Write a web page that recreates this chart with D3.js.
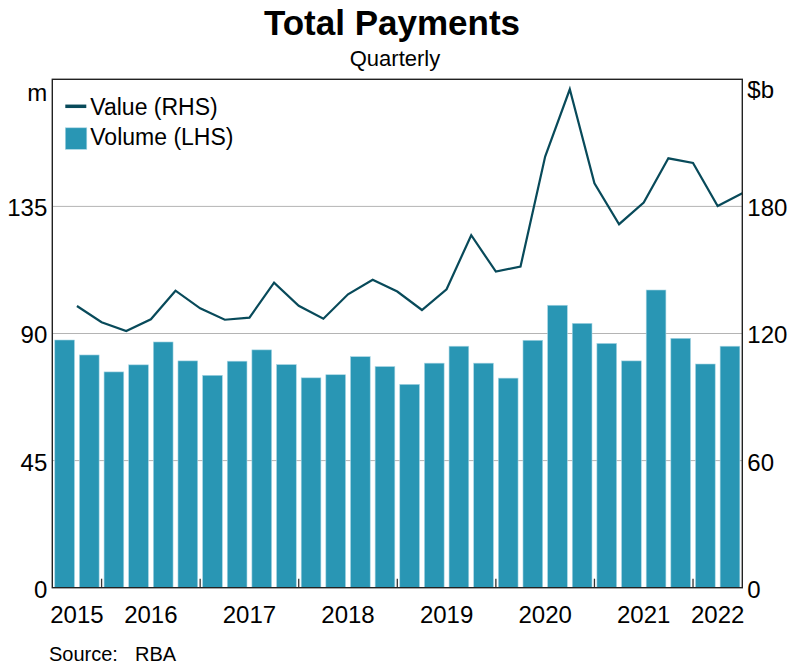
<!DOCTYPE html>
<html>
<head>
<meta charset="utf-8">
<script src="https://cdn.jsdelivr.net/npm/d3@7"></script>
<style>
  body { margin: 0; background: #fff; }
  svg { font-family: Arial, "Liberation Sans", sans-serif; }
</style>
</head>
<body>
<div id="chart"></div>
<script>
// quarters 2015 Q3 .. 2022 Q2
var quarters = ["2015Q3","2015Q4",
  "2016Q1","2016Q2","2016Q3","2016Q4",
  "2017Q1","2017Q2","2017Q3","2017Q4",
  "2018Q1","2018Q2","2018Q3","2018Q4",
  "2019Q1","2019Q2","2019Q3","2019Q4",
  "2020Q1","2020Q2","2020Q3","2020Q4",
  "2021Q1","2021Q2","2021Q3","2021Q4",
  "2022Q1","2022Q2"];
// Volume, millions (LHS)
var volume = [87.7, 82.4, 76.4, 78.9, 87.0, 80.3, 75.2, 80.2, 84.2, 79.0,
  74.3, 75.4, 81.8, 78.3, 72.0, 79.5, 85.5, 79.5, 74.2, 87.6,
  100.0, 93.6, 86.5, 80.3, 105.4, 88.3, 79.2, 85.5];
// Value, $b (RHS)
var value = [133.0, 125.3, 121.2, 126.7, 140.2, 131.9, 126.5, 127.5, 144.0, 133.1,
  127.0, 138.5, 145.4, 139.8, 131.1, 140.9, 166.4, 149.2, 151.6, 203.5,
  235.3, 190.9, 171.6, 181.8, 202.7, 200.5, 180.2, 186.2];
var years = ["2015","2016","2017","2018","2019","2020","2021","2022"];
var leftTicks = [0, 45, 90, 135];
var rightTicks = [0, 60, 120, 180];

var width = 790, height = 666;
var margin = {left: 52.3, right: 47.7, top: 79.3, bottom: 78.3};
var innerW = width - margin.left - margin.right,
    innerH = height - margin.top - margin.bottom;

var barColor = "#2996b4", lineColor = "#084a5a";

var svg = d3.select("#chart").append("svg")
    .attr("width", width)
    .attr("height", height);

svg.append("text")
    .attr("x", 392).attr("y", 35)
    .attr("text-anchor", "middle")
    .style("font-size", "35px").style("font-weight", "bold")
    .text("Total Payments");
svg.append("text")
    .attr("x", 395).attr("y", 66)
    .attr("text-anchor", "middle")
    .style("font-size", "22px")
    .text("Quarterly");

var g = svg.append("g")
    .attr("transform", "translate(" + margin.left + "," + margin.top + ")");

var x = d3.scaleBand()
    .domain(quarters)
    .range([0, innerW])
    .paddingInner(0.2)
    .paddingOuter(0.1);
var yL = d3.scaleLinear().domain([0, 180]).range([innerH, 0]);
var yR = d3.scaleLinear().domain([0, 240]).range([innerH, 0]);

// gridlines
g.selectAll(".grid")
    .data(leftTicks.filter(function(d) { return d > 0; }))
  .enter().append("line")
    .attr("x1", 0).attr("x2", innerW)
    .attr("y1", function(d) { return yL(d); })
    .attr("y2", function(d) { return yL(d); })
    .attr("stroke", "#b4b4b4").attr("stroke-width", 1);

// bars
g.selectAll(".bar")
    .data(volume)
  .enter().append("rect")
    .attr("x", function(d, i) { return x(quarters[i]); })
    .attr("width", x.bandwidth())
    .attr("y", function(d) { return yL(d); })
    .attr("height", function(d) { return innerH - yL(d); })
    .attr("fill", barColor)
    .attr("stroke", "#a9d6e4").attr("stroke-width", 0.6);

// line at quarter ends
function qEnd(q) { return x(q) - x.step() * 0.1 + x.step(); }
var line = d3.line()
    .x(function(d, i) { return qEnd(quarters[i]); })
    .y(function(d) { return yR(d); });
g.append("path")
    .datum(value)
    .attr("d", line)
    .attr("fill", "none")
    .attr("stroke", lineColor)
    .attr("stroke-width", 2.2)
    .attr("stroke-linejoin", "miter");

// year ticks (at year boundaries) and labels
var boundaries = quarters.filter(function(q, i) { return i > 0 && q.slice(4) == "Q1"; });
g.selectAll(".ytick")
    .data(boundaries)
  .enter().append("line")
    .attr("x1", function(q) { return x(q) - x.step() * 0.1; })
    .attr("x2", function(q) { return x(q) - x.step() * 0.1; })
    .attr("y1", innerH).attr("y2", innerH - 9)
    .attr("stroke", "#333").attr("stroke-width", 1.3);

g.selectAll(".year")
    .data(years)
  .enter().append("text")
    .attr("x", function(yr) {
      var qs = quarters.filter(function(q) { return q.slice(0, 4) == yr; });
      var a = x(qs[0]) - x.step() * 0.1, b = qEnd(qs[qs.length - 1]);
      return (a + b) / 2;
    })
    .attr("y", innerH + 35.5)
    .attr("text-anchor", "middle")
    .style("font-size", "24px")
    .text(function(d) { return d; });

// frame
g.append("rect")
    .attr("width", innerW).attr("height", innerH)
    .attr("fill", "none").attr("stroke", "#222").attr("stroke-width", 1.4);

// axis labels
g.selectAll(".ltick")
    .data(leftTicks)
  .enter().append("text")
    .attr("x", -5).attr("y", function(d) { return yL(d) + 10; })
    .attr("text-anchor", "end")
    .style("font-size", "24px")
    .text(function(d) { return d; });
g.selectAll(".rtick")
    .data(rightTicks)
  .enter().append("text")
    .attr("x", 5).attr("y", function(d) { return yR(d) + 10; })
    .attr("transform", "translate(" + innerW + ",0)")
    .style("font-size", "24px")
    .text(function(d) { return d; });
g.append("text")
    .attr("x", -5).attr("y", 21.5)
    .attr("text-anchor", "end")
    .style("font-size", "24px")
    .text("m");
g.append("text")
    .attr("x", innerW + 5).attr("y", 19)
    .style("font-size", "24px")
    .text("$b");

// legend
var leg = g.append("g").attr("transform", "translate(13,0)");
leg.append("line")
    .attr("x1", 0).attr("x2", 21).attr("y1", 27).attr("y2", 27)
    .attr("stroke", lineColor).attr("stroke-width", 3.5);
leg.append("text")
    .attr("x", 25).attr("y", 35.5)
    .style("font-size", "23px")
    .text("Value (RHS)");
leg.append("rect")
    .attr("x", 0).attr("y", 48.5).attr("width", 21.5).attr("height", 21.5)
    .attr("fill", barColor).attr("stroke", "#a9d6e4").attr("stroke-width", 0.6);
leg.append("text")
    .attr("x", 25).attr("y", 66)
    .style("font-size", "23px")
    .text("Volume (LHS)");

// source
svg.append("text")
    .attr("x", 49).attr("y", 661)
    .style("font-size", "20px")
    .text("Source:");
svg.append("text")
    .attr("x", 135).attr("y", 661)
    .style("font-size", "20px")
    .text("RBA");
</script>
</body>
</html>
